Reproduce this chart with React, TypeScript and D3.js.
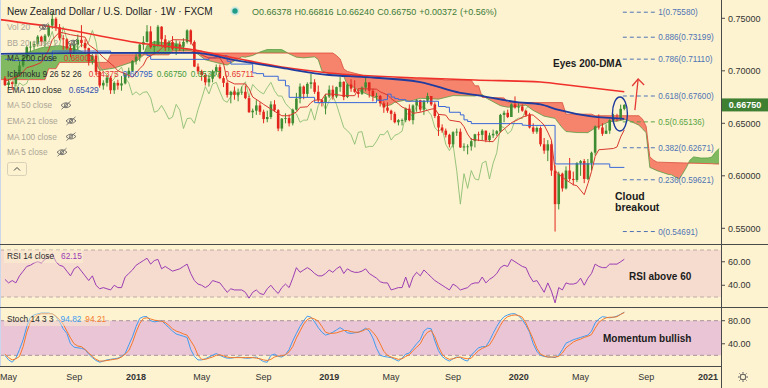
import React from "react";
import * as d3 from "d3";

const START = new Date(2017, 3, 24);
const DAY = 86400000;
const wd = (w: number) => new Date(START.getTime() + w * 7 * DAY);

// ---- weekly candles (week 0 = 2017-04-24) ----
const firstOpen = 0.693;
const closes = [
  0.6865,0.6890,0.6875,0.6965,0.7050,0.7125,0.7225,0.7230,0.7255,0.7325,
  0.7275,0.7335,0.7430,0.7495,0.7415,0.7310,0.7300,0.7215,0.7170,0.7250,
  0.7295,0.7265,0.7215,0.7090,0.7145,0.6990,0.6860,0.6885,0.6935,0.6815,
  0.6885,0.6860,0.6880,0.6965,0.7000,0.7095,
  0.7135,0.7250,0.7275,0.7375,0.7225,0.7240,0.7420,0.7300,0.7220,0.7275,
  0.7210,0.7250,0.7230,0.7275,0.7385,0.7275,0.7040,0.6995,0.6960,0.6890,
  0.6925,0.6995,0.7035,0.6930,0.6885,0.6770,0.6800,0.6770,0.6795,0.6800,
  0.6740,0.6605,0.6620,0.6670,0.6610,0.6540,0.6560,0.6680,0.6625,0.6450,
  0.6545,0.6550,0.6500,0.6630,0.6735,0.6850,0.6780,0.6875,0.6890,0.6800,
  0.6720,0.6700,0.6755,
  0.6820,0.6755,0.6845,0.6895,0.6750,0.6870,0.6830,0.6800,0.6780,0.6840,
  0.6890,0.6810,0.6760,0.6760,0.6690,0.6650,0.6620,0.6590,0.6510,0.6530,
  0.6530,0.6640,0.6530,0.6670,0.6720,0.6630,0.6715,0.6760,0.6680,0.6570,
  0.6460,0.6430,0.6390,0.6300,0.6415,0.6420,0.6270,0.6280,0.6280,0.6330,
  0.6395,0.6390,0.6430,0.6340,0.6385,0.6400,0.6425,0.6580,0.6600,0.6560,
  0.6680,0.6650,
  0.6660,0.6620,0.6580,0.6460,0.6420,0.6455,0.6300,0.6240,0.6300,0.6050,
  0.5730,0.6020,0.5880,0.6050,0.5970,0.5960,0.6120,0.6140,0.5970,0.6120,
  0.6220,0.6470,0.6460,0.6400,0.6430,0.6530,0.6550,0.6545,0.66378,0.6675,
];
const highs = [
  0.6950,0.6925,0.6900,0.6990,0.7090,0.7145,0.7240,0.7280,0.7285,0.7340,
  0.7335,0.7350,0.7445,0.7558,0.7510,0.7445,0.7340,0.7310,0.7260,0.7290,
  0.7345,0.7435,0.7300,0.7220,0.7160,0.7165,0.7000,0.6910,0.6960,0.6950,
  0.6900,0.6915,0.6950,0.6980,0.7030,0.7100,
  0.7165,0.7260,0.7330,0.7435,0.7425,0.7285,0.7437,0.7425,0.7340,0.7290,
  0.7330,0.7290,0.7280,0.7310,0.7395,0.7395,0.7290,0.7070,0.7010,0.6980,
  0.6965,0.7010,0.7060,0.7060,0.6950,0.6900,0.6810,0.6850,0.6830,0.6850,
  0.6860,0.6760,0.6640,0.6720,0.6700,0.6630,0.6620,0.6710,0.6720,0.6635,
  0.6550,0.6595,0.6585,0.6640,0.6790,0.6880,0.6860,0.6890,0.6970,0.6920,
  0.6860,0.6730,0.6780,
  0.6860,0.6860,0.6850,0.6940,0.6900,0.6880,0.6920,0.6910,0.6820,0.6850,
  0.6940,0.6890,0.6830,0.6790,0.6770,0.6710,0.6700,0.6630,0.6610,0.6540,
  0.6545,0.6650,0.6680,0.6680,0.6730,0.6725,0.6720,0.6790,0.6760,0.6700,
  0.6590,0.6490,0.6450,0.6400,0.6425,0.6450,0.6450,0.6310,0.6300,0.6360,
  0.6400,0.6420,0.6445,0.6430,0.6410,0.6440,0.6435,0.6590,0.6620,0.6630,
  0.6690,0.6756,
  0.6690,0.6680,0.6625,0.6600,0.6500,0.6470,0.6470,0.6360,0.6340,0.6330,
  0.6100,0.6040,0.6030,0.6090,0.6170,0.6040,0.6130,0.6150,0.6160,0.6160,
  0.6230,0.6480,0.6585,0.6500,0.6490,0.6540,0.6590,0.6590,0.6678,0.66816,
];
const lows = [
  0.6855,0.6830,0.6818,0.6850,0.6950,0.7035,0.7110,0.7180,0.7200,0.7230,
  0.7240,0.7230,0.7320,0.7400,0.7380,0.7290,0.7200,0.7200,0.7130,0.7160,
  0.7200,0.7225,0.7160,0.7050,0.7060,0.6960,0.6840,0.6820,0.6850,0.6780,
  0.6780,0.6820,0.6810,0.6870,0.6930,0.6990,
  0.7060,0.7090,0.7200,0.7270,0.7210,0.7155,0.7230,0.7230,0.7190,0.7190,
  0.7195,0.7150,0.7190,0.7185,0.7260,0.7250,0.7035,0.6970,0.6905,0.6860,
  0.6850,0.6890,0.6960,0.6920,0.6845,0.6745,0.6690,0.6725,0.6710,0.6770,
  0.6730,0.6600,0.6550,0.6580,0.6580,0.6500,0.6510,0.6540,0.6610,0.6425,
  0.6424,0.6500,0.6470,0.6480,0.6620,0.6690,0.6730,0.6750,0.6830,0.6780,
  0.6690,0.6660,0.6585,
  0.6740,0.6725,0.6740,0.6800,0.6720,0.6740,0.6800,0.6790,0.6745,0.6770,
  0.6805,0.6745,0.6710,0.6720,0.6660,0.6600,0.6600,0.6530,0.6500,0.6480,
  0.6480,0.6510,0.6520,0.6490,0.6610,0.6610,0.6580,0.6690,0.6665,0.6550,
  0.6380,0.6410,0.6365,0.6270,0.6270,0.6380,0.6265,0.6235,0.6204,0.6240,
  0.6270,0.6330,0.6340,0.6320,0.6320,0.6360,0.6380,0.6410,0.6510,0.6550,
  0.6560,0.6640,
  0.6600,0.6610,0.6560,0.6450,0.6400,0.6400,0.6280,0.6210,0.6140,0.6000,
  0.5469,0.5680,0.5850,0.5870,0.5950,0.5910,0.5940,0.6000,0.5930,0.5960,
  0.6050,0.6193,0.6440,0.6380,0.6400,0.6400,0.6510,0.6520,0.6530,0.6624,
];

// ---- overlays: [week, value] ----
const ma200 = [[-2,0.7490],[13,0.7417],[37,0.7265],[52,0.7198],[63,0.7122],[76,0.7036],[89,0.6979],[114,0.6931],[129,0.6912],[147,0.6893],[152,0.6874],[170,0.6800]];
const ema110 = [[-2,0.716],[25,0.717],[52,0.717],[63,0.7102],[76,0.7027],[89,0.696],[98,0.6942],[114,0.6893],[125,0.679],[129,0.677],[141,0.670],[147,0.668],[152,0.6627],[161,0.6565],[170,0.6543]];
const tenkan = [[0,0.690],[4,0.6955],[6,0.703],[8,0.705],[10,0.708],[12,0.7198],[13,0.7297],[15,0.7369],[18,0.7344],[22,0.732],[23,0.7248],[25,0.7198],[27,0.7128],[30,0.704],[31,0.700],[33,0.6972],[35,0.694],[37,0.702],[38,0.7055],[39,0.7123],[42,0.7183],[44,0.7248],[46,0.7296],[50,0.7294],[51,0.728],[52,0.7215],[54,0.715],[56,0.7122],[59,0.7122],[60,0.7068],[61,0.6908],[63,0.6875],[66,0.6875],[67,0.683],[68,0.675],[70,0.6705],[71,0.668],[75,0.6593],[76,0.6572],[78,0.6572],[80,0.6607],[81,0.6652],[83,0.6657],[84,0.6697],[85,0.672],[87,0.6725],[88,0.6778],[90,0.6778],[93,0.6763],[96,0.6763],[97,0.683],[102,0.6825],[103,0.68],[105,0.677],[106,0.6735],[108,0.6685],[109,0.6655],[111,0.6625],[112,0.6595],[114,0.6605],[117,0.6635],[118,0.664],[119,0.6585],[121,0.6578],[122,0.653],[125,0.6513],[126,0.6468],[127,0.6397],[128,0.6347],[133,0.6327],[134,0.6325],[136,0.6415],[137,0.6445],[139,0.6505],[141,0.6538],[142,0.6558],[144,0.6583],[145,0.6578],[147,0.6518],[148,0.6483],[149,0.6415],[150,0.634],[151,0.6047],[153,0.5985],[156,0.5915],[157,0.5905],[159,0.582],[160,0.5925],[161,0.604],[162,0.6185],[163,0.6248],[167,0.626],[168,0.6275],[169,0.637],[170,0.64375]];
const kijun = [[0,0.7110],[2,0.7097],[13,0.7188],[29,0.7169],[39,0.7145],[40,0.7109],[56,0.7124],[58,0.7144],[61,0.7091],[62,0.7064],[68,0.6980],[69,0.6973],[71,0.6948],[75,0.6910],[77,0.6857],[78,0.6747],[85,0.6697],[102,0.6720],[104,0.6725],[105,0.6778],[106,0.6750],[107,0.6735],[108,0.6725],[110,0.6710],[119,0.6660],[121,0.6653],[122,0.6605],[125,0.6580],[126,0.6533],[127,0.6517],[128,0.6497],[142,0.6482],[143,0.6480],[151,0.6113],[166,0.6080],[170,0.60795]];
const spanA = [[-2,0.714],[5,0.716],[10,0.722],[15,0.724],[20,0.720],[24,0.714],[26,0.7005],[30,0.7026],[34,0.7073],[36,0.7089],[38,0.7148],[39,0.7243],[41,0.7279],[44,0.7266],[48,0.7254],[49,0.7218],[51,0.7193],[53,0.7158],[55,0.7105],[59,0.707],[61,0.7055],[63,0.7095],[64,0.7112],[65,0.7134],[66,0.713],[68,0.7146],[70,0.7179],[72,0.7203],[76,0.7202],[78,0.7162],[80,0.713],[82,0.7123],[85,0.7133],[86,0.7106],[87,0.70],[89,0.697],[92,0.697],[93,0.6947],[94,0.6865],[96,0.6839],[97,0.6814],[101,0.6752],[102,0.6741],[104,0.666],[106,0.6677],[107,0.67],[110,0.6722],[111,0.6709],[114,0.6738],[119,0.673],[123,0.6764],[127,0.6761],[129,0.676],[131,0.6774],[132,0.6743],[134,0.6705],[136,0.6668],[138,0.6653],[140,0.6658],[143,0.6673],[145,0.6623],[148,0.6568],[151,0.6547],[152,0.65],[153,0.6457],[154,0.6422],[157,0.6412],[160,0.6411],[162,0.6456],[163,0.6471],[165,0.6501],[166,0.6518],[168,0.652],[170,0.6535],[171,0.6529],[173,0.6499],[174,0.6482],[175,0.6448],[176,0.641],[177,0.608],[179,0.6049],[182,0.6014],[183,0.6009],[185,0.5967],[186,0.6019],[187,0.6077],[188,0.6149],[189,0.618],[191,0.6169],[193,0.617],[194,0.6178],[195,0.6225],[196,0.626]];
const spanB = [[-2,0.6916],[11,0.6916],[12,0.702],[14,0.702],[15,0.708],[28,0.708],[29,0.7152],[45,0.7152],[46,0.7188],[54,0.7188],[55,0.7169],[90,0.7169],[91,0.7145],[92,0.7113],[93,0.7018],[94,0.6994],[97,0.6968],[101,0.6931],[120,0.6917],[121,0.691],[128,0.691],[129,0.6857],[130,0.6857],[131,0.6747],[137,0.6742],[138,0.6697],[153,0.6697],[154,0.6587],[161,0.6587],[162,0.6572],[174,0.6572],[175,0.654],[176,0.647],[177,0.618],[178,0.615],[179,0.613],[194,0.6115],[195,0.61125],[196,0.61125]];
const LAG = 26;

// ---- oscillators (weekly) ----
const rsi = [45,42,44,42,48,52,56,57,59,60, 59,62,64,67,60,57,56,52,48,54, 56,52,48,44,48,40,37,38,37,36, 40,38,38,47,50,53,57,59,61,63, 58,61,62,54,56,54,52,53,54,56, 58,50,44,41,40,38,40,44,43,42, 38,34,37,36,36,36,34,29,34,36, 33,32,37,40,36,33,38,41,38,46, 55,51,53,55,53,50,48,48,50,53, 51,54,56,50,54,52,51,51,52,54, 50,48,46,43,42,42,36,37,38,38, 47,38,47,51,48,53,50,47,44,42, 40,38,36,41,39,36,37,38,41,42, 42,47,42,45,47,50,55,57,56,62, 60,58,56,55,48,43,44,39,34,42, 35,25,38,36,42,41,41,42,46,40, 46,50,58,56,55,55,58,58,58,60, 62.15];
const stochK = [20,12,8,15,30,47,70,86,90,92, 93,93,93,92,87,78,66,58,40,34, 33,32,30,22,16,11,8,10,12,13, 14,15,18,23,38,52,70,84,87,87, 80,78,79,80,74,68,62,57,55,53, 51,30,18,12,12,14,17,20,23,20, 17,15,15,16,17,16,15,15,16,17, 13,9,8,20,22,18,17,21,30,45, 58,70,80,88,86,78,68,60,55,57, 60,64,68,64,59,58,59,60,63,67, 62,50,32,20,18,17,16,13,10,15, 22,24,32,40,47,62,67,66,45,28, 18,13,10,14,17,16,12,10,20,27, 33,35,35,45,58,70,80,87,90,92, 92,88,82,72,60,40,27,20,18,17, 17,16,20,30,41,44,47,49,51,53, 55,62,76,83,87,86,85,86,88,91, 94.82];
const stochD = [22,16,12,14,18,35,60,78,86,90, 92,92,92,92,88,82,74,62,50,40, 36,35,30,24,18,13,10,10,11,12, 13,14,17,22,28,42,60,75,84,85, 83,81,80,79,77,72,66,62,60,57, 55,45,35,20,13,13,15,17,20,21, 19,17,16,16,16,16,16,16,16,15, 14,12,11,13,17,19,19,21,26,35, 50,62,74,82,85,83,79,70,60,58, 58,59,61,63,63,61,60,60,62,65, 66,60,52,40,27,20,17,15,13,14, 18,21,28,34,40,52,60,63,52,35, 22,16,13,14,16,17,15,14,15,22, 28,32,35,38,48,60,72,82,87,89, 90,89,86,76,62,48,32,22,19,17, 17,17,18,24,33,38,43,46,48,51, 53,56,67,77,82,85,86,86,87,91, 94.21];

// ---- axes / levels ----
const priceTicks = [0.75, 0.7, 0.65, 0.6, 0.55];
const rsiTicks = [60, 40];
const stochTicks = [80, 40];
const timeTickDates = [new Date(2017,4,1), new Date(2017,8,4), new Date(2018,0,1), new Date(2018,4,7), new Date(2018,8,3), new Date(2019,0,7), new Date(2019,4,6), new Date(2019,8,2), new Date(2020,0,6), new Date(2020,4,4), new Date(2020,8,7), new Date(2021,0,4)];
const timeTickLabels = ["May","Sep","2018","May","Sep","2019","May","Sep","2020","May","Sep","2021"];
const fibRatios = ["1","0.886","0.786","0.618","0.5","0.382","0.236","0"];
const fibPrices = [0.7558, 0.73199, 0.7111, 0.676, 0.65136, 0.62671, 0.59621, 0.54691];
const lastPrice = 0.6675;

const FONT = "'Liberation Sans', Arial, Helvetica, sans-serif";
const BG = "#fdf3d1";
const FADED = "#aca696";

function EyeOff({ cx, cy }: { cx: number; cy: number }) {
  return (
    <g stroke="#6a6a6a" strokeWidth={0.9} fill="none">
      <path d={`M${cx - 5},${cy} Q${cx},${cy - 5} ${cx + 5},${cy} Q${cx},${cy + 5} ${cx - 5},${cy} Z`} />
      <circle cx={cx} cy={cy} r={1.6} />
      <line x1={cx - 4.5} y1={cy + 4} x2={cx + 4.5} y2={cy - 4} />
    </g>
  );
}

export default function App() {
  const x = d3.scaleTime().domain([wd(0), wd(170)]).range([4.93, 624.3]);
  const yP = d3.scaleLinear().domain([0.55, 0.75]).range([228.3, 18.3]);
  const yR = d3.scaleLinear().domain([30, 70]).range([297, 250]);
  const yS = d3.scaleLinear().domain([20, 80]).range([355.3, 320.7]);
  const AX = 721.5;

  const kl = (curve: any) =>
    d3.line<number[]>().x((d) => x(wd(d[0]))).y((d) => yP(d[1])).curve(curve);
  const linLine = kl(d3.curveLinear);
  const smooth = kl(d3.curveMonotoneX);
  const step = kl(d3.curveStepAfter);

  const px = (arr: number[][]) => arr.map((d) => [x(wd(d[0])), yP(d[1])] as [number, number]);
  const aPx = px(spanA);
  const bPx = px(spanB);
  const raw = d3.line();
  const cloudPoly = raw([...aPx, ...bPx.slice().reverse()]) + "Z";
  const aboveB = raw([...bPx, [bPx[bPx.length - 1][0], -50], [bPx[0][0], -50]]) + "Z";
  const belowB = raw([...bPx, [bPx[bPx.length - 1][0], 500], [bPx[0][0], 500]]) + "Z";

  const lagPts = closes.slice(LAG).map((c, k) => [k, c]);

  const oscLine = (arr: number[], sc: any) =>
    d3.line<number>().x((_, i) => x(wd(i))).y((v) => sc(v))(arr) as string;

  const opens = closes.map((c, i) => (i === 0 ? firstOpen : closes[i - 1]));

  const legendRows: { label: string; faded?: boolean; icon?: number; values?: [string, string][] }[] = [
    { label: "Vol 20", faded: true, icon: 44 },
    { label: "BB 20 close 2", faded: true, icon: 73 },
    { label: "MA 200 close", values: [["0.68000", "#e53935"]] },
    { label: "Ichimoku 9 26 52 26", values: [["0.64375", "#e53935"], ["0.60795", "#2f5fc4"], ["0.66750", "#3f9a3a"], ["0.65347", "#3f9a3a"], ["0.65711", "#e53935"]] },
    { label: "EMA 110 close", values: [["0.65429", "#2f4fb0"]] },
    { label: "MA 50 close", faded: true, icon: 66 },
    { label: "EMA 21 close", faded: true, icon: 71 },
    { label: "MA 100 close", faded: true, icon: 71 },
    { label: "MA 5 close", faded: true, icon: 62 },
  ];

  const arrowX0 = x(wd(172.9)), arrowY0 = yP(0.6626);
  const arrowX1 = x(wd(173.8)), arrowY1 = yP(0.6922);

  return (
    <svg width={768} height={388} style={{ position: "absolute", left: 0, top: 0, display: "block" }} fontFamily={FONT}>
      <defs>
        <clipPath id="mainClip"><rect x={0} y={0} width={AX} height={244} /></clipPath>
        <clipPath id="rsiClip"><rect x={0} y={245} width={AX} height={62} /></clipPath>
        <clipPath id="stClip"><rect x={0} y={308} width={AX} height={58} /></clipPath>
        <clipPath id="aboveB"><path d={aboveB} /></clipPath>
        <clipPath id="belowB"><path d={belowB} /></clipPath>
      </defs>
      <rect x={0} y={0} width={768} height={388} fill={BG} />

      {/* ---------- main pane ---------- */}
      <g clipPath="url(#mainClip)">
        <g clipPath="url(#aboveB)"><path d={cloudPoly} fill="#6aae4c" fillOpacity={0.85} fillRule="evenodd" /></g>
        <g clipPath="url(#belowB)"><path d={cloudPoly} fill="#f4705c" fillOpacity={0.85} fillRule="evenodd" /></g>
        <path d={linLine(spanA) as string} fill="none" stroke="#5a9e44" strokeWidth={0.8} />
        <path d={linLine(spanB) as string} fill="none" stroke="#e0473a" strokeWidth={0.8} />
        <path d={linLine(lagPts) as string} fill="none" stroke="#86bb6c" strokeWidth={1} strokeOpacity={0.85} />

        {closes.map((c, i) => {
          const o = opens[i];
          const up = c >= o;
          const col = up ? "#3f8d32" : "#e3261d";
          const cx = x(wd(i));
          const top = yP(Math.max(o, c));
          const bot = yP(Math.min(o, c));
          return (
            <g key={i}>
              <line x1={cx} x2={cx} y1={yP(highs[i])} y2={yP(lows[i])} stroke={col} strokeWidth={1} />
              <rect x={cx - 1.3} y={top} width={2.6} height={Math.max(0.8, bot - top)} fill={col} />
            </g>
          );
        })}

        <path d={step(kijun) as string} fill="none" stroke="#3a68d8" strokeWidth={1} />
        <path d={linLine(tenkan) as string} fill="none" stroke="#d8382e" strokeWidth={1} />
        <path d={smooth(ma200) as string} fill="none" stroke="#f0302a" strokeWidth={1.6} />
        <path d={smooth(ema110) as string} fill="none" stroke="#1f3c9e" strokeWidth={1.8} />

        {/* fib levels */}
        {fibPrices.map((p, k) => {
          const col = fibRatios[k] === "0.5" ? "#5aa444" : "#4f73b3";
          const x1 = x(wd(169.6)), x2 = x(wd(178.6));
          return (
            <g key={k}>
              <line x1={x1} x2={x2} y1={yP(p)} y2={yP(p)} stroke={col} strokeWidth={1} strokeDasharray="4,3" />
              <text x={x2 + 2.5} y={yP(p) + 3} fontSize={8.2} fill={col}>{`${fibRatios[k]}(${p.toFixed(5)})`}</text>
            </g>
          );
        })}

        {/* annotations */}
        <text x={553} y={67} fontSize={10} fontWeight="bold" fill="#1b1b1b">Eyes 200-DMA</text>
        <line x1={arrowX0} y1={arrowY0} x2={arrowX1} y2={arrowY1} stroke="#e53935" strokeWidth={1.3} />
        <polyline points={`${arrowX1 - 6},${arrowY1 + 7} ${arrowX1},${arrowY1} ${arrowX1 + 6},${arrowY1 + 6}`} fill="none" stroke="#e53935" strokeWidth={1.3} />
        <ellipse cx={x(wd(168.8))} cy={yP(0.6589)} rx={7.5} ry={17} fill="none" stroke="#1b3a9c" strokeWidth={1.4} />
        <text x={615} y={200} fontSize={10.5} fontWeight="bold" fill="#1b1b1b">Cloud</text>
        <text x={615} y={210.5} fontSize={10.5} fontWeight="bold" fill="#1b1b1b">breakout</text>
      </g>

      {/* legend */}
      <text x={7} y={15} fontSize={10} fill="#222">New Zealand Dollar / U.S. Dollar · 1W · FXCM</text>
      <circle cx={235} cy={11} r={4.5} fill="#cfe8df" />
      <circle cx={235} cy={11} r={2.7} fill="#1e9c87" />
      <text x={252} y={15} fontSize={9} fill="#3c7a36">
        <tspan>O0.66378</tspan><tspan dx={3}>H0.66816</tspan><tspan dx={3}>L0.66240</tspan><tspan dx={3}>C0.66750</tspan><tspan dx={3}>+0.00372</tspan><tspan dx={3}>(+0.56%)</tspan>
      </text>
      {legendRows.map((r, k) => {
        const cy = 27 + k * 15.65;
        return (
          <g key={k}>
            <text x={7} y={cy + 3} fontSize={8.3} fill={r.faded ? FADED : "#2a2a2a"}>
              <tspan>{r.label}</tspan>
              {(r.values || []).map((v, j) => (
                <tspan key={j} dx={j === 0 ? 7 : 4} fill={v[1]}>{v[0]}</tspan>
              ))}
            </text>
            {r.icon ? <EyeOff cx={r.icon} cy={cy} /> : null}
          </g>
        );
      })}
      <rect x={7.5} y={162.5} width={19} height={13} rx={2} fill="none" stroke="#d9d0b8" />
      <polyline points="14,170.5 17,167.5 20,170.5" fill="none" stroke="#444" strokeWidth={1} />

      {/* ---------- RSI pane ---------- */}
      <rect x={0} y={yR(70)} width={AX} height={yR(30) - yR(70)} fill="#f6dccf" />
      {[70, 30].map((v) => (
        <line key={v} x1={0} x2={AX} y1={yR(v)} y2={yR(v)} stroke="#b8a3a0" strokeDasharray="4,3" strokeWidth={0.9} />
      ))}
      <g clipPath="url(#rsiClip)">
        <path d={oscLine(rsi, yR)} fill="none" stroke="#9b3db3" strokeWidth={1} />
      </g>
      <rect x={4} y={250} width={79} height={13} fill={BG} fillOpacity={0.45} />
      <text x={7} y={259} fontSize={8.3} fill="#2a2a2a"><tspan>RSI 14 close</tspan><tspan dx={7} fill="#9b3db3">62.15</tspan></text>
      <text x={629} y={280} fontSize={10} fontWeight="bold" fill="#1b1b1b">RSI above 60</text>

      {/* ---------- Stoch pane ---------- */}
      <rect x={0} y={yS(80)} width={AX} height={yS(20) - yS(80)} fill="#eac5d5" />
      {[80, 20].map((v) => (
        <line key={v} x1={0} x2={AX} y1={yS(v)} y2={yS(v)} stroke="#9f8a94" strokeDasharray="4,3" strokeWidth={0.9} />
      ))}
      <g clipPath="url(#stClip)">
        <path d={oscLine(stochK, yS)} fill="none" stroke="#3f9cf0" strokeWidth={1} />
        <path d={oscLine(stochD, yS)} fill="none" stroke="#f5782a" strokeWidth={1} />
      </g>
      <rect x={4} y={313} width={106} height={13} fill={BG} fillOpacity={0.45} />
      <text x={7} y={322} fontSize={8.3} fill="#2a2a2a"><tspan>Stoch 14 3 3</tspan><tspan dx={7} fill="#3f9cf0">94.82</tspan><tspan dx={4} fill="#f5782a">94.21</tspan></text>
      <text x={603} y={341.5} fontSize={10} fontWeight="bold" fill="#1b1b1b">Momentum bullish</text>

      {/* ---------- frame / separators ---------- */}
      <line x1={0.5} x2={0.5} y1={0} y2={366} stroke="#c9d6ec" />
      <line x1={0} x2={768} y1={244.5} y2={244.5} stroke="#4a4a4a" />
      <line x1={0} x2={768} y1={307.5} y2={307.5} stroke="#4a4a4a" />
      <line x1={0} x2={AX} y1={366.5} y2={366.5} stroke="#4a4a4a" />
      <line x1={AX} x2={AX} y1={0} y2={388} stroke="#4a4a4a" />

      {/* price axis */}
      {priceTicks.map((t) => (
        <g key={t}>
          <line x1={AX} x2={AX + 3.5} y1={yP(t)} y2={yP(t)} stroke="#4a4a4a" />
          <text x={728} y={yP(t) + 3.2} fontSize={9} fill="#333">{t.toFixed(5)}</text>
        </g>
      ))}
      <rect x={AX + 0.5} y={yP(lastPrice) - 6.5} width={46} height={13} fill="#3f7f31" />
      <text x={745} y={yP(lastPrice) + 3.3} fontSize={9} fill="#fff" fontWeight="bold" textAnchor="middle">{lastPrice.toFixed(5)}</text>
      {rsiTicks.map((t) => (
        <g key={t}>
          <line x1={AX} x2={AX + 3.5} y1={yR(t)} y2={yR(t)} stroke="#4a4a4a" />
          <text x={728} y={yR(t) + 3.2} fontSize={9} fill="#333">{t.toFixed(2)}</text>
        </g>
      ))}
      {stochTicks.map((t) => (
        <g key={t}>
          <line x1={AX} x2={AX + 3.5} y1={yS(t)} y2={yS(t)} stroke="#4a4a4a" />
          <text x={728} y={yS(t) + 3.2} fontSize={9} fill="#333">{t.toFixed(2)}</text>
        </g>
      ))}

      {/* time axis */}
      {timeTickDates.map((d, k) => (
        <text key={k} x={x(d)} y={380} fontSize={9} textAnchor="middle" fill="#333"
          fontWeight={/^\d{4}$/.test(timeTickLabels[k]) ? "bold" : "normal"}>{timeTickLabels[k]}</text>
      ))}

      {/* gear */}
      <g transform="translate(743,377)" stroke="#555" fill="none" strokeWidth={1}>
        <circle r={2.8} />
        {d3.range(8).map((k) => {
          const a = (k * Math.PI) / 4;
          return <line key={k} x1={Math.cos(a) * 3.4} y1={Math.sin(a) * 3.4} x2={Math.cos(a) * 5} y2={Math.sin(a) * 5} />;
        })}
      </g>
    </svg>
  );
}
